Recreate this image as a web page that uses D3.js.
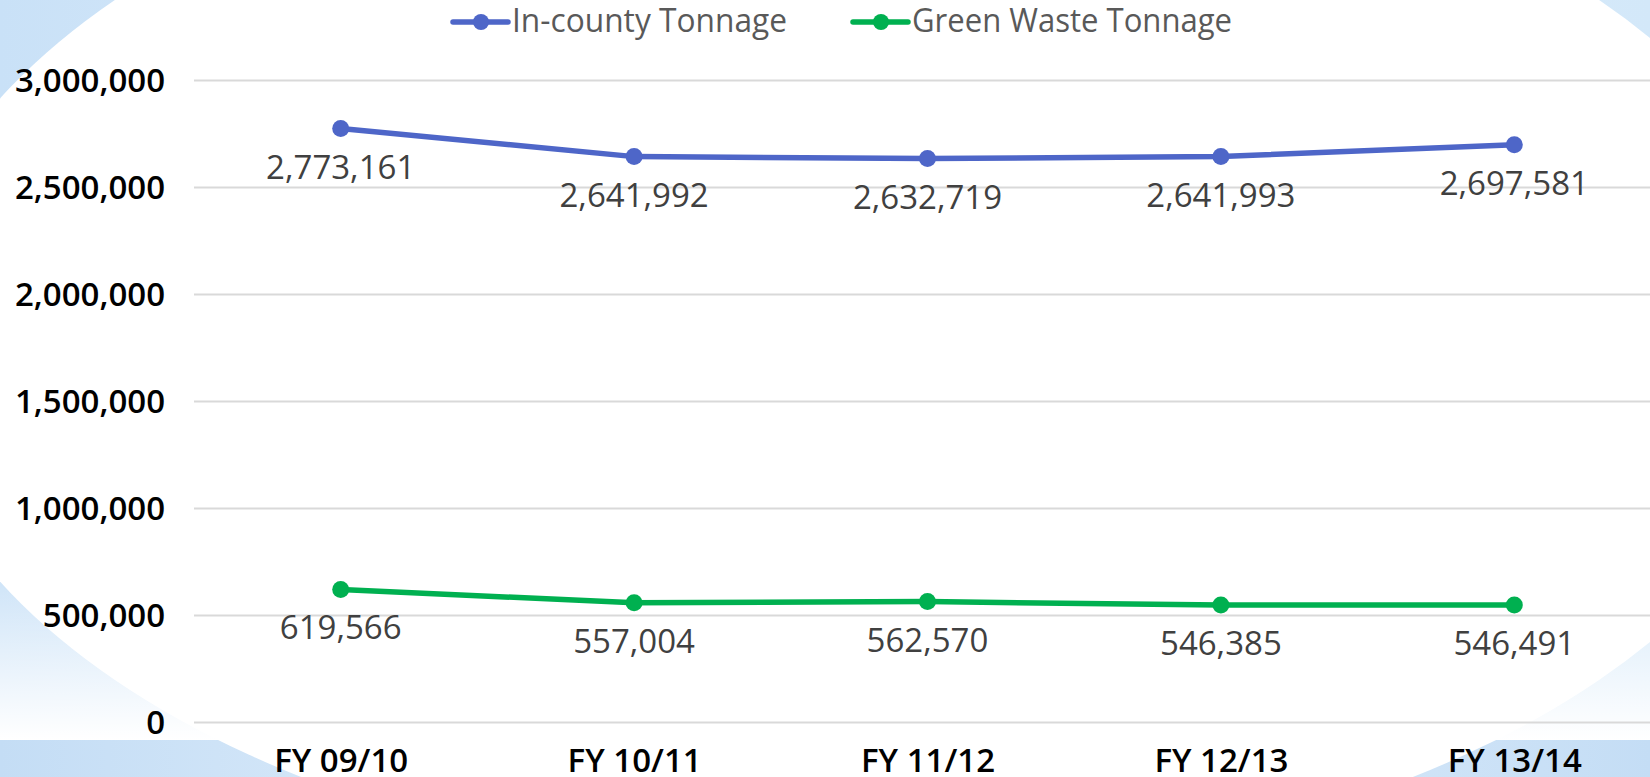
<!DOCTYPE html>
<html>
<head>
<meta charset="utf-8">
<title>Tonnage</title>
<script src="https://cdn.jsdelivr.net/npm/d3@7"></script>
<style>
  body { margin: 0; background: #fff; }
  svg { display: block; }
</style>
</head>
<body>
<script>
var years = ["FY 09/10", "FY 10/11", "FY 11/12", "FY 12/13", "FY 13/14"];
var inCounty = [2773161, 2641992, 2632719, 2641993, 2697581];
var greenWaste = [619566, 557004, 562570, 546385, 546491];
var yTicks = [0, 500000, 1000000, 1500000, 2000000, 2500000, 3000000];
var seriesNames = ["In-county Tonnage", "Green Waste Tonnage"];
var seriesColors = ["#4e66c8", "#00b050"];

var width = 1650, height = 777;
var svg = d3.select("body").append("svg")
    .attr("width", width)
    .attr("height", height);

// background, like the slide it came from
var defs = svg.append("defs");
var gh = defs.append("linearGradient").attr("id", "bgh");
gh.append("stop").attr("offset", "0%").attr("stop-color", "#c9e1f7");
gh.append("stop").attr("offset", "50%").attr("stop-color", "#e4f0fc");
gh.append("stop").attr("offset", "100%").attr("stop-color", "#d3e8f9");
var gv = defs.append("linearGradient").attr("id", "fade")
    .attr("x1", 0).attr("y1", 0).attr("x2", 0).attr("y2", 1);
gv.append("stop").attr("offset", "0%").attr("stop-color", "#fff").attr("stop-opacity", 0);
gv.append("stop").attr("offset", "100%").attr("stop-color", "#fff").attr("stop-opacity", 1);
var gs = defs.append("linearGradient").attr("id", "strip");
gs.append("stop").attr("offset", "0%").attr("stop-color", "#c4ddf5");
gs.append("stop").attr("offset", "50%").attr("stop-color", "#eaf4fd");
gs.append("stop").attr("offset", "100%").attr("stop-color", "#c4ddf5");

svg.append("rect").attr("width", width).attr("height", height).attr("fill", "url(#bgh)");
svg.append("rect").attr("y", 560).attr("width", width).attr("height", 180).attr("fill", "url(#fade)");
svg.append("rect").attr("y", 740).attr("width", width).attr("height", 37).attr("fill", "url(#strip)");
svg.append("ellipse")
    .attr("cx", 857).attr("cy", 340)
    .attr("rx", 960).attr("ry", 536)
    .attr("fill", "#fff");

var plotLeft = 194, plotRight = 1661, plotTop = 80, plotBottom = 722;
var x = d3.scalePoint().domain(years).range([plotLeft, plotRight]).padding(0.5);
var y = d3.scaleLinear().domain([0, 3000000]).range([plotBottom, plotTop]);

var yAxis = svg.append("g")
    .attr("transform", "translate(" + plotLeft + ",0)")
    .call(d3.axisLeft(y).tickValues(yTicks).tickFormat(d3.format(","))
        .tickSizeInner(-(width - plotLeft)).tickSizeOuter(0).tickPadding(29));
yAxis.select(".domain").remove();
yAxis.selectAll(".tick line").attr("stroke", "#d9d9d9").attr("stroke-width", 2);
yAxis.selectAll(".tick text")
    .attr("font-family", "'Open Sans', sans-serif")
    .attr("font-size", 33).attr("font-weight", 600)
    .attr("fill", "#000").attr("dy", "0.36em");

var xAxis = svg.append("g")
    .attr("transform", "translate(0," + plotBottom + ")")
    .call(d3.axisBottom(x).tickSize(0));
xAxis.select(".domain").remove();
xAxis.selectAll(".tick text")
    .attr("font-family", "'Open Sans', sans-serif")
    .attr("font-size", 33).attr("font-weight", 600)
    .attr("fill", "#000").attr("y", 50).attr("dy", 0);

var series = [inCounty, greenWaste];
var line = d3.line().x(function(d, i) { return x(years[i]); }).y(function(d) { return y(d); });

series.forEach(function(vals, s) {
    var g = svg.append("g");
    g.append("path")
        .datum(vals)
        .attr("d", line)
        .attr("fill", "none")
        .attr("stroke", seriesColors[s])
        .attr("stroke-width", 5.5)
        .attr("stroke-linejoin", "round");
    g.selectAll("circle")
        .data(vals)
        .enter()
        .append("circle")
        .attr("cx", function(d, i) { return x(years[i]); })
        .attr("cy", function(d) { return y(d); })
        .attr("r", 8.5)
        .attr("fill", seriesColors[s]);
    g.selectAll("text")
        .data(vals)
        .enter()
        .append("text")
        .attr("x", function(d, i) { return x(years[i]); })
        .attr("y", function(d) { return y(d) + 50; })
        .attr("text-anchor", "middle")
        .attr("font-family", "'Open Sans', sans-serif")
        .attr("font-size", 33)
        .attr("fill", "#404040")
        .text(d3.format(","));
});

// legend
var legX = [453, 853], legW = [275, 320];
seriesNames.forEach(function(name, s) {
    var lg = svg.append("g").attr("transform", "translate(" + legX[s] + ",22)");
    lg.append("line").attr("x1", 0).attr("x2", 55)
        .attr("stroke", seriesColors[s]).attr("stroke-width", 5.5)
        .attr("stroke-linecap", "round");
    lg.append("circle").attr("cx", 28).attr("r", 8).attr("fill", seriesColors[s]);
    lg.append("text")
        .attr("x", 59).attr("y", 10)
        .attr("font-family", "'Open Sans', sans-serif")
        .attr("font-size", 33)
        .attr("fill", "#595959")
        .attr("textLength", legW[s])
        .attr("lengthAdjust", "spacingAndGlyphs")
        .text(name);
});
</script>
</body>
</html>
